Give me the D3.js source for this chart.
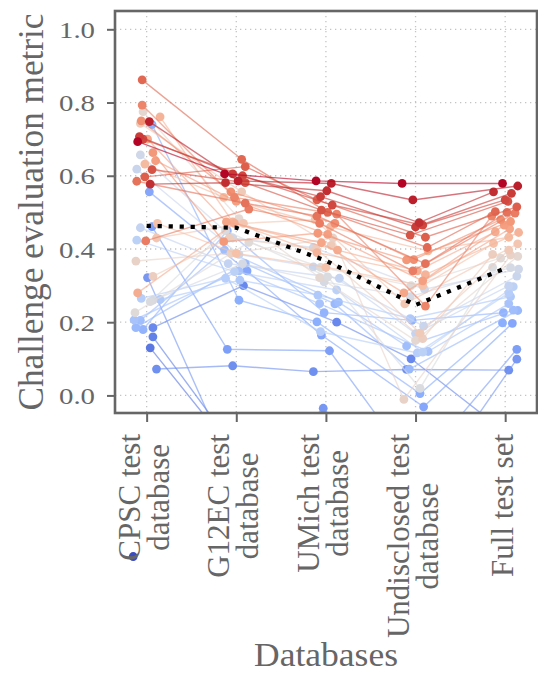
<!DOCTYPE html>
<html><head><meta charset="utf-8">
<script src="https://cdn.jsdelivr.net/npm/d3@7"></script>
<style>body{margin:0;background:#fff}svg{display:block}</style>
</head><body><svg id="c" width="538" height="673"></svg>
<script>
// ---------------- data ----------------
const databases = ["CPSC test\ndatabase", "G12EC test\ndatabase", "UMich test\ndatabase", "Undisclosed test\ndatabase", "Full test set"];
// teams ordered by full test set score (best first)
const cpsc = [0.693,0.748,0.577,0.707,0.700,0.617,0.597,0.862,0.585,0.422,
  0.793,0.750,0.663,0.641,0.700,0.280,0.761,0.632,0.470,0.430,
  0.743,0.325,0.367,0.775,0.226,0.256,0.260,0.657,0.618,0.458,
  0.424,0.265,0.262,0.206,0.205,0.185,0.180,0.740,0.556,0.461,
  0.322,0.072,0.185,0.160,0.130,-0.30,-0.55,-0.65,-0.90,-0.44];
const g12ec = [0.605,0.586,0.581,0.605,0.600,0.581,0.625,0.645,0.525,0.509,
  0.541,0.556,0.420,0.530,0.474,0.470,0.474,0.541,0.388,0.470,
  0.556,0.430,0.388,0.483,0.418,0.450,0.360,0.430,0.385,0.360,
  0.338,0.320,0.315,0.340,0.397,0.360,0.450,0.260,0.340,0.126,
  -0.250,0.081,0.300,-0.150,-0.145,-0.40,-0.60,-0.50,-0.90,-1.00];
const umich = [0.586,0.579,0.559,0.543,0.520,0.506,0.534,0.500,0.490,0.470,
  0.495,0.470,0.443,0.440,0.417,0.397,0.390,0.460,0.350,0.480,
  0.410,0.400,0.430,0.322,0.350,0.324,0.310,0.404,0.351,0.320,
  0.288,0.174,0.274,0.251,0.255,0.250,0.226,0.201,0.165,0.122,
  -0.035,0.065,0.200,-0.60,-0.40,-0.30,-0.70,-0.80,-0.90,-1.10];
const undisclosed = [0.579,0.534,0.472,0.460,0.465,0.438,0.432,0.404,0.360,0.340,
  0.244,0.371,0.370,0.313,0.280,0.340,0.330,0.395,0.300,0.250,
  0.170,0.155,-0.011,0.150,0.300,0.019,0.270,0.290,0.189,0.169,
  0.118,0.116,0.210,0.120,0.135,0.072,0.205,0.005,-0.031,-0.200,
  -0.300,0.071,0.100,-0.70,-0.50,-0.40,-0.80,-0.90,-1.00,-1.20];
const fullTest = [0.579,0.572,0.556,0.552,0.534,0.530,0.515,0.502,0.500,0.498,
  0.490,0.480,0.475,0.465,0.455,0.447,0.445,0.432,0.415,0.414,
  0.397,0.385,0.383,0.380,0.375,0.350,0.349,0.345,0.326,0.299,
  0.297,0.280,0.270,0.251,0.233,0.232,0.226,0.198,0.197,0.126,
  0.099,0.069,-0.10,-0.30,-0.35,-0.50,-0.60,-0.70,-0.90,-1.10];
// horizontal jitter of each marker (in category units)
const jitCpsc = [-0.10,0.03,0.04,-0.08,-0.04,0.06,-0.02,-0.05,-0.11,-0.01,
  -0.05,-0.06,0.07,0.10,0.01,-0.10,0.15,-0.02,0.12,0.11,
  -0.07,0.07,-0.12,-0.04,-0.13,0.04,0.07,-0.07,-0.11,-0.07,
  -0.11,-0.06,0.15,-0.14,-0.07,-0.12,-0.04,0.06,0.03,0.06,
  0.01,0.11,0.07,0.07,0.04,0.00,0.05,-0.05,0.10,-0.15];
const jitG12ec = [-0.13,0.02,-0.12,-0.04,0.07,0.10,0.10,0.06,0.10,0.14,
  -0.02,-0.06,-0.14,0.00,-0.11,-0.02,-0.04,-0.14,0.00,0.08,
  0.06,-0.08,-0.06,0.03,0.14,-0.12,0.07,-0.04,0.03,-0.09,
  -0.02,-0.12,0.04,0.03,-0.13,0.10,-0.10,0.03,0.12,-0.10,
  0.05,-0.04,0.08,0.00,-0.06,0.10,-0.10,0.05,0.00,0.10];
const jitUmich = [-0.11,0.06,0.01,-0.06,0.07,-0.05,-0.10,0.02,-0.10,-0.07,
  0.12,0.10,-0.09,0.02,-0.05,0.13,-0.10,0.05,0.00,-0.12,
  0.06,-0.11,0.08,-0.07,-0.06,0.02,-0.02,-0.14,-0.14,0.15,
  0.12,-0.06,-0.09,-0.07,0.14,0.10,-0.02,-0.10,-0.05,0.04,
  -0.03,-0.14,0.12,0.00,0.00,0.00,0.00,0.00,0.00,0.00];
const jitUndisclosed = [-0.15,-0.03,0.04,0.00,0.08,-0.06,0.11,0.13,0.11,-0.03,
  0.11,-0.02,-0.10,0.08,-0.13,0.02,0.11,0.14,0.08,-0.12,
  0.05,0.08,-0.13,0.00,-0.05,0.05,-0.06,0.10,0.09,0.00,
  0.08,0.02,-0.06,0.14,-0.10,-0.07,-0.04,0.05,0.09,0.00,
  0.00,-0.10,-0.05,0.00,0.00,0.00,0.00,0.00,0.00,0.00];
const jitFull = [-0.03,0.14,-0.13,0.07,0.00,0.03,0.13,-0.11,0.02,0.11,
  -0.15,-0.05,0.06,-0.01,0.05,-0.11,0.15,0.04,-0.13,0.14,
  0.04,-0.14,0.06,0.14,-0.05,-0.14,0.06,0.15,0.13,0.04,
  0.09,0.04,0.06,0.04,0.09,0.14,-0.02,-0.03,0.08,0.13,
  0.13,0.04,0.00,0.00,0.00,0.00,0.00,0.00,0.00,0.00];
// dotted summary line
const medianScores = [0.463, 0.458, 0.368, 0.247, 0.347];
const yTicks = [0.0, 0.2, 0.4, 0.6, 0.8, 1.0];
// single marker drawn beyond the axes (lowest-ranked team, CPSC)
const offAxisMarkers = [{db: 0, value: -0.44, jitter: -0.15, team: 49}];

// ---------------- layout ----------------
const W = 538, H = 673;
const L = 115, R = 537, T = 11, B = 413;
const grey = "#666666";
const serif = "'Liberation Serif', 'Times New Roman', serif";

const svg = d3.select("#c");
const x = d3.scaleLinear().domain([-0.353, 4.355]).range([L, R]);
const y = d3.scaleLinear().domain([-0.048, 1.05]).range([B, T]);

// coolwarm colormap
const cwStops = ["#3b4cc0","#6282ea","#8db0fe","#b8d0f9","#dddcdc","#f5c4ac","#f49a7b","#de604d","#b40426"];
const coolwarm = d3.scaleLinear().domain(d3.range(9).map(i => i/8)).range(cwStops).interpolate(d3.interpolateLab).clamp(true);

const n = fullTest.length;
const series = [cpsc, g12ec, umich, undisclosed, fullTest];
const jit = [jitCpsc, jitG12ec, jitUmich, jitUndisclosed, jitFull];
const teams = d3.range(n).map(i => ({
  i, color: coolwarm(1 - i/(n-1)),
  pts: series.map((s, d) => ({d, v: s[i], j: jit[d][i]}))
}));

svg.append("defs").append("clipPath").attr("id","clip")
  .append("rect").attr("x", L).attr("y", T).attr("width", R-L).attr("height", B-T);

// grid
const grid = svg.append("g");
grid.selectAll("line.h").data(yTicks).join("line")
  .attr("x1", L).attr("x2", R).attr("y1", d => y(d)).attr("y2", d => y(d))
  .attr("stroke", "#c4c4c4").attr("stroke-width", 1.3).attr("stroke-dasharray", "1.3,3.7");
grid.selectAll("line.v").data(d3.range(databases.length)).join("line")
  .attr("y1", T).attr("y2", B).attr("x1", d => x(d)).attr("x2", d => x(d))
  .attr("stroke", "#c4c4c4").attr("stroke-width", 1.3).attr("stroke-dasharray", "1.3,3.7");

// data
const plot = svg.append("g").attr("clip-path", "url(#clip)");
const line = d3.line().x(p => x(p.d + p.j)).y(p => y(p.v));
const tg = plot.selectAll("g.team").data(teams.slice().reverse()).join("g");
tg.append("path").attr("d", t => line(t.pts)).attr("fill", "none")
  .attr("stroke", t => t.color).attr("stroke-width", 1.4).attr("stroke-opacity", 0.62);
tg.selectAll("circle").data(t => t.pts.map(p => ({...p, c: t.color}))).join("circle")
  .attr("cx", p => x(p.d + p.j)).attr("cy", p => y(p.v)).attr("r", 4.4)
  .attr("fill", p => p.c);

// off-axis marker
svg.selectAll("circle.off").data(offAxisMarkers).join("circle")
  .attr("cx", m => x(m.db + m.jitter)).attr("cy", m => y(m.value)).attr("r", 4.4)
  .attr("fill", m => coolwarm(1 - m.team/(n-1)));

// summary dotted line
svg.append("path").datum(medianScores)
  .attr("d", d3.line().x((v, k) => x(k)).y(v => y(v)))
  .attr("fill", "none").attr("stroke", "#000").attr("stroke-width", 4.2)
  .attr("stroke-dasharray", "4.2,6.8");

// frame
svg.append("rect").attr("x", L).attr("y", T).attr("width", R-L).attr("height", B-T)
  .attr("fill", "none").attr("stroke", grey).attr("stroke-width", 2.6);

// y axis
const yAxis = svg.append("g").attr("transform", `translate(${L},0)`)
  .call(d3.axisLeft(y).tickValues(yTicks).tickFormat(d3.format(".1f")).tickSize(8).tickPadding(12));
yAxis.select(".domain").remove();
yAxis.selectAll(".tick line").attr("stroke", grey).attr("stroke-width", 2);
yAxis.selectAll(".tick text").attr("font-family", serif).attr("font-size", 24)
  .attr("fill", grey).attr("dy", "0.34em").attr("textLength", 36).attr("lengthAdjust", "spacingAndGlyphs");

// x axis
const xAxis = svg.append("g").attr("transform", `translate(0,${B})`)
  .call(d3.axisBottom(x).tickValues(d3.range(databases.length)).tickFormat("").tickSize(9));
xAxis.select(".domain").remove();
xAxis.selectAll(".tick line").attr("stroke", grey).attr("stroke-width", 2);

const lab = svg.append("g");
databases.forEach((name, k) => {
  const lines = name.split("\n");
  const g = lab.append("g").attr("transform", `translate(${x(k)},434) rotate(-90)`);
  const texts = lines.map((s, li) => g.append("text").text(s)
    .attr("font-family", serif).attr("font-size", 31).attr("fill", grey)
    .attr("text-anchor", "middle")
    .attr("y", (li - (lines.length - 1) / 2) * 29 + 7.5));
  const maxLen = d3.max(texts, t => t.node().getComputedTextLength());
  texts.forEach(t => t.attr("x", -maxLen / 2));
});

// axis titles
svg.append("text").text("Databases")
  .attr("x", (L + R) / 2).attr("y", 666).attr("text-anchor", "middle")
  .attr("font-family", serif).attr("font-size", 33).attr("fill", grey)
  .attr("textLength", 144).attr("lengthAdjust", "spacingAndGlyphs");
svg.append("text").text("Challenge evaluation metric")
  .attr("transform", `translate(43,${(T + B) / 2}) rotate(-90)`)
  .attr("text-anchor", "middle")
  .attr("font-family", serif).attr("font-size", 35).attr("fill", grey)
  .attr("textLength", 397).attr("lengthAdjust", "spacingAndGlyphs");
</script></body></html>
